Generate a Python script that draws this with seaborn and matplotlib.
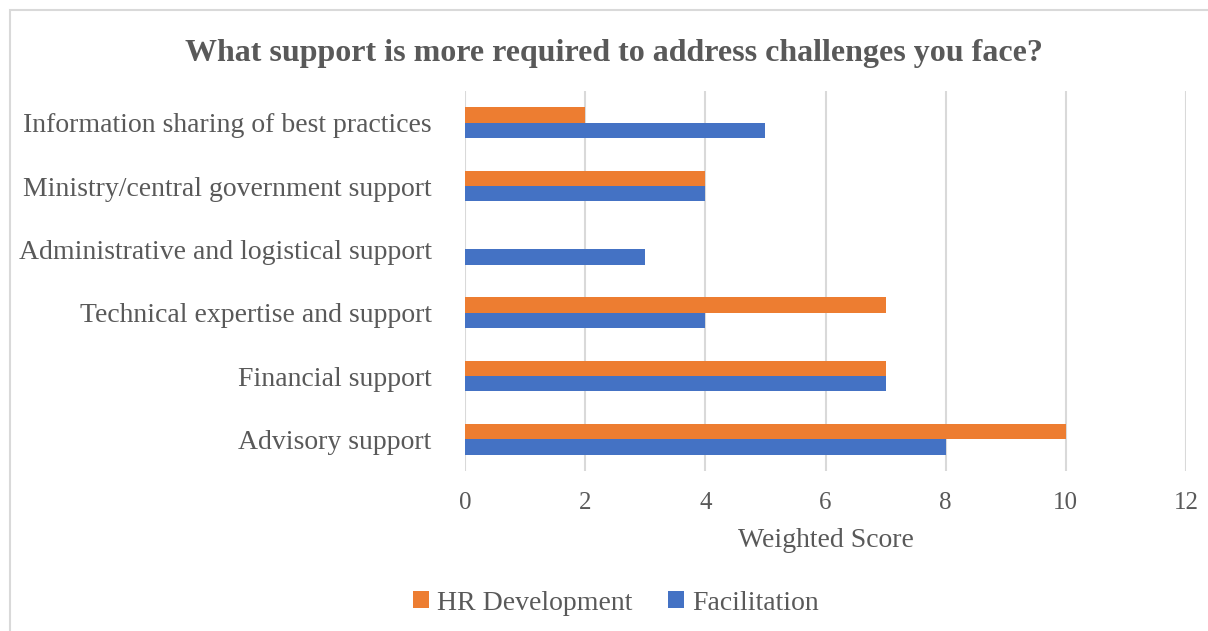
import pandas as pd
import matplotlib.pyplot as plt
import seaborn as sns
from matplotlib.patches import Rectangle

# Data
categories = ['Information sharing of best practices',
              'Ministry/central government support',
              'Administrative and logistical support',
              'Technical expertise and support',
              'Financial support',
              'Advisory support']
hr_development = [2, 4, 0, 7, 7, 10]
facilitation = [5, 4, 3, 4, 7, 8]
series = ['HR Development', 'Facilitation']
colors = ['#ED7D31', '#4472C4']

df = pd.DataFrame({
    'Category': categories * 2,
    'Score': hr_development + facilitation,
    'Series': [series[0]] * len(categories) + [series[1]] * len(categories),
})

sns.set_style('white')
plt.rcParams['font.family'] = ['Liberation Serif', 'DejaVu Serif']
text_color = '#595959'

fig = plt.figure(figsize=(12.08, 6.31), dpi=100)
ax = fig.add_axes([465 / 1208, 1 - 471 / 631, (1186 - 465) / 1208, 380 / 631])

sns.barplot(data=df, x='Score', y='Category', hue='Series', order=categories,
            hue_order=series, palette=colors, orient='h', width=0.48,
            saturation=1, linewidth=0, ax=ax, legend=True)

ax.set_xlim(0, 12)
ax.set_xticks(range(0, 13, 2))
ax.grid(axis='x', color='#D9D9D9', linewidth=1.5)
ax.set_axisbelow(True)
for s in ax.spines.values():
    s.set_visible(False)
ax.tick_params(axis='x', length=0, pad=15, labelsize=18, labelcolor=text_color)
ax.tick_params(axis='y', length=0, pad=24, labelsize=20, labelcolor=text_color)
ax.set_ylabel('')
ax.set_xlabel('Weighted Score', fontsize=20, color=text_color, labelpad=10)

ax.get_legend().remove()
handles, labels = ax.get_legend_handles_labels()
fig.legend(handles, labels, loc='center', bbox_to_anchor=(0.51, 1 - 603 / 631),
           ncol=2, frameon=False, fontsize=20, labelcolor=text_color,
           handlelength=0.55, handleheight=0.55, handletextpad=0.3, columnspacing=1.3)

fig.suptitle('What support is more required to address challenges you face?',
             x=0.508, y=1 - 53 / 631, va='center', fontsize=23, fontweight='bold',
             color=text_color)

# light border around the chart area
fig.patches.append(Rectangle((10 / 1208, -0.1), 1.2, 1.1 - 10 / 631,
                             transform=fig.transFigure, fill=False,
                             edgecolor='#D9D9D9', linewidth=1.5))

fig.savefig('out.png', dpi=100)
